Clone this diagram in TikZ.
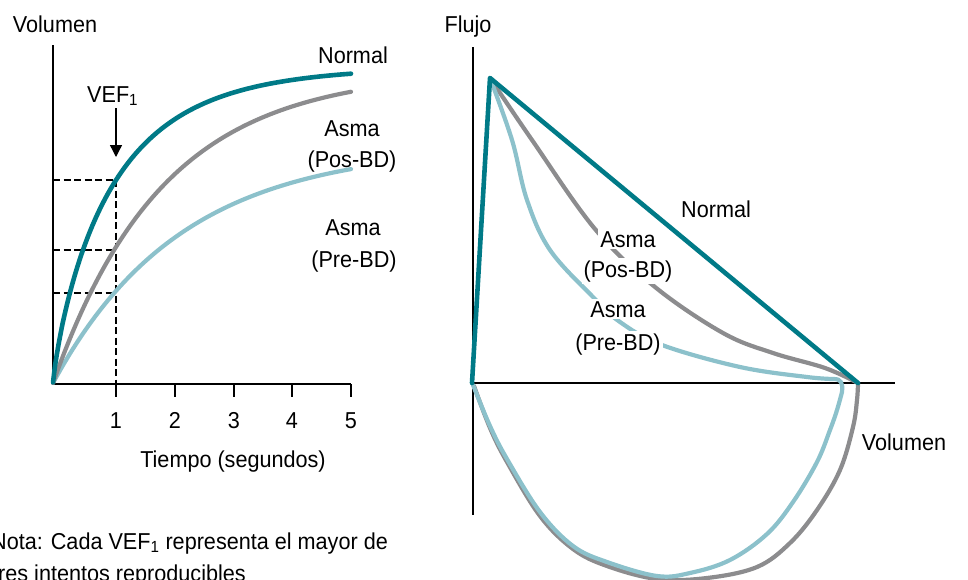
\documentclass[tikz,border=0pt]{standalone}
\usepackage{fontspec}
\setmainfont{Liberation Sans}[FakeStretch=0.94]
\usetikzlibrary{arrows.meta}
\definecolor{cnorm}{RGB}{0,122,135}
\definecolor{cpos}{RGB}{140,140,142}
\definecolor{cpre}{RGB}{140,193,203}
\begin{document}
\begin{tikzpicture}[x=1pt,y=-1pt,
  lbl/.style={font=\fontsize{23}{26}\selectfont, inner sep=0pt, anchor=base},
  lblw/.style={lbl, fill=white, inner sep=2pt},
  axisline/.style={line width=1.3pt, black},
  guide/.style={line width=1.3pt, black, dash pattern=on 7pt off 3.5pt},
  curveN/.style={cnorm, line width=4.6pt, line cap=round, line join=round},
  curveP/.style={cpos, line width=4.2pt, line cap=round, line join=round},
  curveR/.style={cpre, line width=4.2pt, line cap=round, line join=round}
]
\clip (0,0) rectangle (968,579);
\useasboundingbox (0,0) rectangle (968,579);

% ---------- left chart ----------
\coordinate (L0) at (53,384);
\coordinate (Ltop) at (53,45);
\coordinate (Lend) at (351,384);
\draw[axisline] (Ltop) -- (L0) -- (Lend);
\foreach \x/\n in {116/1,175/2,234/3,292/4,351/5}{
  \coordinate (t\n) at (\x,384);
  \coordinate (tb\n) at (\x,397);
  \draw[axisline] (t\n) -- (tb\n);
  \node[lbl] (tl\n) at (\x,428) {\n};
}
\node[lbl] (tiempo) at (233,467) {Tiempo (segundos)};
\node[lbl] (volL) at (55,32) {Volumen};

% dashed guides
\coordinate (gN) at (116,180);
\coordinate (gP) at (116,250);
\coordinate (gR) at (116,293);
\draw[guide] (gN) -- (t1);
\draw[guide] (53,180) -- (gN);
\draw[guide] (53,250) -- (gP);
\draw[guide] (53,293) -- (gR);

% curves
\draw[curveR] plot[domain=0:298, samples=120, variable=\t] ({53+\t},{383-237*(1-exp(-\t/128))});
\draw[curveP] plot[domain=0:298, samples=120, variable=\t] ({53+\t},{383-312*(1-exp(-\t/110))});
\draw[curveN] plot[domain=0.05:298, samples=160, variable=\t] ({53+\t},{383-316*(1-exp(-(pow(\t/61,0.85))))});

% VEF1 label and arrow
\node[lbl, anchor=base west] (vef) at (87,102) {VEF\textsubscript{1}};
\coordinate (arS) at (116,108);
\coordinate (arE) at (116,157);
\draw[line width=1.3pt, -{Triangle[width=12pt,length=12pt]}] (arS) -- (arE);

\node[lbl] (lN) at (353,63) {Normal};
\node[lbl] (lP1) at (352,136) {Asma};
\node[lbl] (lP2) at (352,167) {(Pos-BD)};
\node[lbl] (lR1) at (353,235) {Asma};
\node[lbl] (lR2) at (354,267) {(Pre-BD)};

\node[lbl, anchor=base west] (nota1) at (-9,549) {Nota: Cada VEF\textsubscript{1} representa el mayor de};
\node[lbl, anchor=base west] (nota2) at (-8,581) {tres intentos reproducibles};

% ---------- right chart ----------
\coordinate (R0) at (473,383);
\coordinate (Rtop) at (473,47);
\coordinate (Rbot) at (473,515);
\coordinate (Rend) at (895,383);
\draw[axisline] (Rtop) -- (Rbot);
\draw[axisline] (R0) -- (Rend);
\node[lbl] (flujo) at (468,32) {Flujo};
\node[lbl] (volR) at (904,450) {Volumen};

% gray (Pos-BD)
\draw[curveP] plot[smooth, tension=0.6] coordinates {(490,78) (532,140) (595,229) (655,287) (723,333) (773,353) (825,368) (858,383)}
  -- plot[smooth, tension=0.6] coordinates {(858,383) (857,400) (853,427) (840,470) (817,510) (790,543) (757,567) (707,578) (657,579) (607,566) (573,549) (540,516) (507,462) (490,428) (474,386)};
% light blue (Pre-BD)
\draw[curveR] plot[smooth, tension=0.6] coordinates {(490,78) (512,140) (527,200) (550,250) (593,297) (620,322) (662,345) (740,367) (807,377) (834,379)}
  .. controls (841,379) and (843,383) .. (842,392)
  -- plot[smooth, tension=0.6] coordinates {(842,392) (837,410) (830,430) (817,462) (793,502) (767,534) (730,560) (690,573) (657,576) (607,562) (573,546) (540,512) (507,459) (490,426) (473,385)};
% teal (Normal)
\coordinate (pk) at (490,78);
\coordinate (zN) at (858,383);
\draw[curveN] (472,383) -- (pk) -- (zN);

\node[lbl] (rN) at (716,217) {Normal};
\node[lblw] (rP1) at (628,247) {Asma};
\node[lblw] (rP2) at (628,277) {(Pos-BD)};
\node[lblw] (rR1) at (618,317) {Asma};
\node[lblw] (rR2) at (618,350) {(Pre-BD)};
\end{tikzpicture}
\end{document}
